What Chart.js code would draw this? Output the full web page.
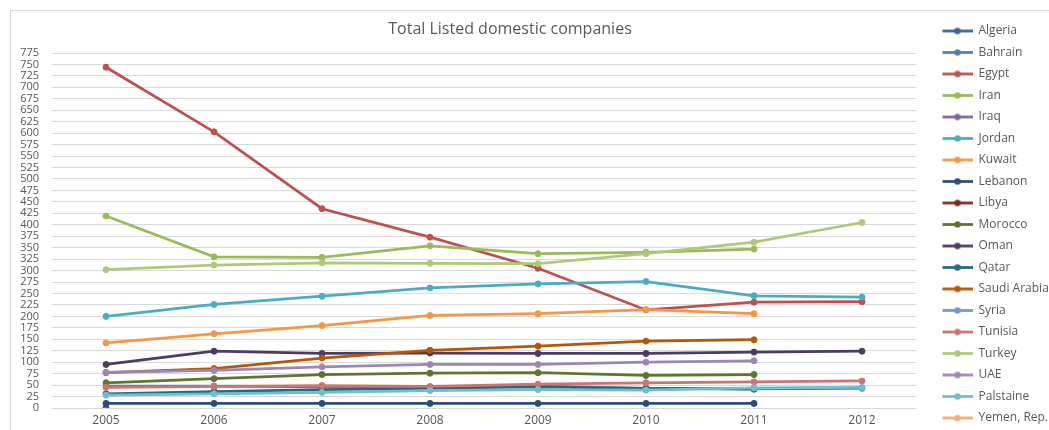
<!DOCTYPE html>
<html>
<head>
<meta charset="utf-8">
<title>Total Listed domestic companies</title>
<script src="https://cdn.jsdelivr.net/npm/chart.js@4.4.1/dist/chart.umd.min.js"></script>
<style>
    html, body { margin: 0; padding: 0; background: #fff; overflow: hidden; }
    #frame { position: absolute; left: 10px; top: 10px; width: 1100px; height: 450px; border: 1px solid #d9d9d9; }
    #wrap { position: absolute; left: 0; top: 0; width: 1080px; height: 440px; }
</style>
</head>
<body>
<div id="frame"><div id="wrap"><canvas id="chart"></canvas></div></div>
<script>
// Data
const years = ['2005', '2006', '2007', '2008', '2009', '2010', '2011', '2012'];

const algeria   = [1, null, null, null, null, null, null, null];
const bahrain   = [48, 48, 46, 45, 48, 43, 42, 43];
const egypt     = [744, 603, 435, 373, 305, 214, 231, 232];
const iran      = [419, 330, 329, 354, 337, 340, 347, null];
const iraq      = [null, null, null, null, null, null, null, null];
const jordan    = [200, 226, 244, 262, 271, 276, 245, 242];
const kuwait    = [142, 162, 180, 202, 206, 215, 206, null];
const lebanon   = [10, 10, 10, 10, 10, 10, 10, null];
const libya     = [null, null, null, null, null, null, null, null];
const morocco   = [55, 64, 73, 76, 77, 71, 73, null];
const oman      = [95, 124, 119, 120, 119, 119, 122, 124];
const qatar     = [31, 36, 40, 43, 46, 43, 41, null];
const saudi     = [77, 86, 109, 126, 135, 146, 149, null];
const syria     = [null, null, null, null, null, null, null, null];
const tunisia   = [45, 47, 49, 47, 52, 55, 57, 59];
const turkey    = [302, 312, 317, 316, 315, 337, 362, 405];
const uae       = [78, 82, 90, 95, 95, 100, 103, null];
const palstaine = [28, 31, 34, 38, 40, 39, 44, 45];
const yemen     = [null, null, null, null, null, null, null, null];

const countries = ['Algeria', 'Bahrain', 'Egypt', 'Iran', 'Iraq', 'Jordan', 'Kuwait', 'Lebanon', 'Libya',
    'Morocco', 'Oman', 'Qatar', 'Saudi Arabia', 'Syria', 'Tunisia', 'Turkey', 'UAE', 'Palstaine', 'Yemen, Rep.'];
const values = [algeria, bahrain, egypt, iran, iraq, jordan, kuwait, lebanon, libya,
    morocco, oman, qatar, saudi, syria, tunisia, turkey, uae, palstaine, yemen];
const colors = ['#3A6296', '#4F81BD', '#C0504D', '#9BBB59', '#8064A2', '#4BACC6', '#F79646', '#2C4D75', '#772C2A',
    '#5F7530', '#4D3B62', '#276A7C', '#B65708', '#729ACA', '#CD7371', '#AFC97A', '#9D87B8', '#6FBDD1', '#F9AB6B'];

const FONT = "'Open Sans', 'DejaVu Sans', sans-serif";
const TEXT_COLOR = '#595959';
const LEGEND_FONT_SIZE = 12;
const LEGEND_PAD = 9.5;
const MARKER_W = 47;       // marker image incl. gap to the plot
const PLOT_RIGHT = 905;    // right edge of the plot area in canvas px
const TITLE_CENTER = 499;  // title centre in canvas px

// legend width is fixed by its longest label; size the right padding from it
const measureCtx = document.createElement('canvas').getContext('2d');
measureCtx.font = `${LEGEND_FONT_SIZE}px ${FONT}`;
const longestLabel = Math.max(...countries.map(c => measureCtx.measureText(c).width));
const legendWidth = LEGEND_PAD + MARKER_W + LEGEND_FONT_SIZE / 2 + longestLabel + 10;
const canvasWidth = document.getElementById('wrap').clientWidth;

// line-with-dot marker for the legend, left part left blank as spacing
function legendMarker(color) {
    const c = document.createElement('canvas');
    c.width = MARKER_W;
    c.height = 9;
    const g = c.getContext('2d');
    g.strokeStyle = color;
    g.lineWidth = 2.75;
    g.beginPath();
    g.moveTo(17, 4.5);
    g.lineTo(47, 4.5);
    g.stroke();
    g.fillStyle = color;
    g.beginPath();
    g.arc(32, 4.5, 3.2, 0, Math.PI * 2);
    g.fill();
    return c;
}

// move the title block sideways so it sits over the whole frame
const titleShift = {
    id: 'titleShift',
    afterLayout(chart) {
        const t = chart.titleBlock;
        if (!t) return;
        const dx = TITLE_CENTER - (t.left + t.right) / 2;
        t.left += dx;
        t.right += dx;
    }
};

const datasets = countries.map((name, i) => ({
    label: name,
    data: values[i],
    borderColor: colors[i],
    backgroundColor: colors[i],
    pointBackgroundColor: colors[i],
    pointBorderColor: colors[i],
    borderWidth: 2.75,
    pointRadius: 3,
    pointBorderWidth: 1,
    tension: 0,
    spanGaps: false,
    // later series on top
    order: countries.length - i,
}));

new Chart(document.getElementById('chart'), {
    type: 'line',
    data: { labels: years, datasets },
    plugins: [titleShift],
    options: {
        responsive: true,
        maintainAspectRatio: false,
        animation: false,
        layout: { padding: { top: 4.5, left: 9, right: canvasWidth - PLOT_RIGHT - legendWidth, bottom: 13 } },
        plugins: {
            title: {
                display: true,
                fullSize: false,
                text: 'Total Listed domestic companies',
                color: TEXT_COLOR,
                font: { family: FONT, size: 16, weight: 'normal' },
                padding: { top: 4, bottom: 14.3 },
            },
            legend: {
                position: 'right',
                align: 'start',
                labels: {
                    usePointStyle: true,
                    pointStyleWidth: MARKER_W,
                    padding: LEGEND_PAD,
                    color: TEXT_COLOR,
                    font: { family: FONT, size: LEGEND_FONT_SIZE },
                    sort: (a, b) => a.datasetIndex - b.datasetIndex,
                    generateLabels: chart => Chart.defaults.plugins.legend.labels.generateLabels(chart).map(item => {
                        item.pointStyle = legendMarker(colors[item.datasetIndex]);
                        return item;
                    }),
                },
            },
            tooltip: { enabled: false },
        },
        scales: {
            x: {
                offset: true,
                grid: { display: false, drawTicks: false },
                border: { display: false },
                ticks: { color: TEXT_COLOR, padding: 5, font: { family: FONT, size: 12 } },
                afterFit: scale => { scale.height = 30; },
            },
            y: {
                min: 0,
                max: 775,
                grid: { color: '#d9d9d9', drawTicks: false },
                border: { display: false },
                ticks: { stepSize: 25, autoSkip: false, color: TEXT_COLOR, padding: 13, font: { family: FONT, size: 11 } },
                afterFit: scale => { scale.width = 32; },
            },
        },
    },
});
</script>
</body>
</html>
